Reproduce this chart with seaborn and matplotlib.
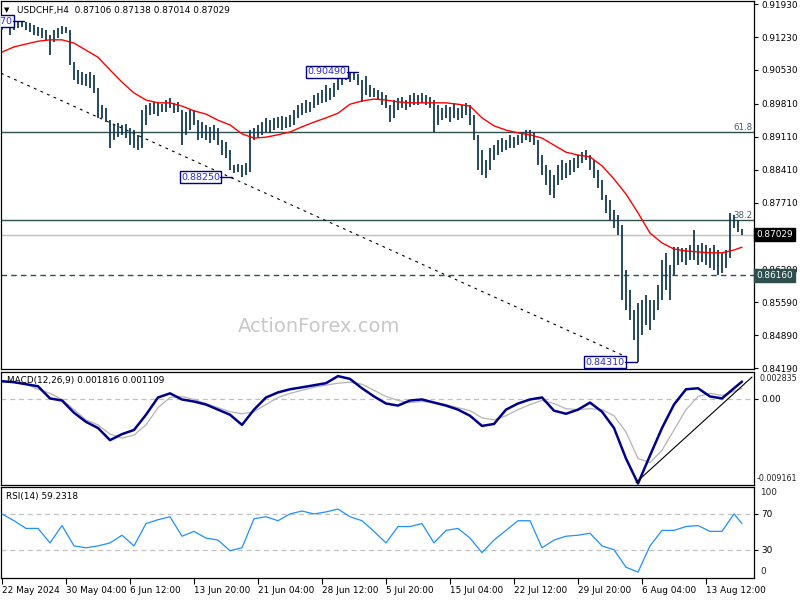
import matplotlib
matplotlib.use("Agg")
import matplotlib.pyplot as plt
import matplotlib.transforms as mtransforms
import numpy as np
import seaborn as sns

# ---- data (USDCHF H4) ----
highs = [0.9159, 0.9163, 0.9155, 0.9153, 0.9155, 0.9157, 0.9155, 0.9153, 0.9149, 0.9144,
         0.9142, 0.9138, 0.9127, 0.9138, 0.9142, 0.9146, 0.9144, 0.9138, 0.9070, 0.9053,
         0.9049, 0.9044, 0.9049, 0.9042, 0.9015, 0.8978, 0.8972, 0.8946, 0.8936, 0.8940,
         0.8936, 0.8938, 0.8930, 0.8925, 0.8915, 0.8968, 0.8978, 0.8983, 0.8985, 0.8983,
         0.8980, 0.8989, 0.8993, 0.8983, 0.8985, 0.8968, 0.8964, 0.8968, 0.8968, 0.8946,
         0.8942, 0.8936, 0.8932, 0.8936, 0.8930, 0.8904, 0.8900, 0.8883, 0.8851, 0.8853,
         0.8851, 0.8855, 0.8925, 0.8930, 0.8936, 0.8942, 0.8951, 0.8946, 0.8951, 0.8953,
         0.8955, 0.8953, 0.8957, 0.8968, 0.8978, 0.8983, 0.8989, 0.8985, 0.9000, 0.9004,
         0.9010, 0.9021, 0.9015, 0.9025, 0.9042, 0.9046, 0.9049, 0.9046, 0.9046, 0.9044,
         0.9032, 0.9040, 0.9021, 0.9015, 0.9010, 0.9006, 0.9000, 0.8978, 0.8989, 0.8993,
         0.8995, 0.8989, 0.9000, 0.9004, 0.9000, 0.9004, 0.9000, 0.8995, 0.8989, 0.8978,
         0.8972, 0.8978, 0.8974, 0.8983, 0.8972, 0.8978, 0.8983, 0.8978, 0.8957, 0.8915,
         0.8883, 0.8861, 0.8887, 0.8893, 0.8904, 0.8908, 0.8904, 0.8915, 0.8910, 0.8915,
         0.8921, 0.8925, 0.8925, 0.8921, 0.8904, 0.8872, 0.8851, 0.8840, 0.8830, 0.8851,
         0.8861, 0.8855, 0.8861, 0.8866, 0.8872, 0.8878, 0.8883, 0.8872, 0.8861, 0.8840,
         0.8819, 0.8787, 0.8776, 0.8755, 0.8744, 0.8723, 0.8628, 0.8585, 0.8542, 0.8557,
         0.8564, 0.8574, 0.8564, 0.8564, 0.8596, 0.8649, 0.8664, 0.8638, 0.8676, 0.8676,
         0.8674, 0.8674, 0.8681, 0.8713, 0.8681, 0.8685, 0.8681, 0.8674, 0.8681, 0.8670,
         0.8664, 0.8670, 0.8749, 0.8744, 0.8734, 0.87138]
lows = [0.9138, 0.9142, 0.9127, 0.9138, 0.9142, 0.9144, 0.9138, 0.9134, 0.9127, 0.9125,
        0.9121, 0.9117, 0.9085, 0.9112, 0.9121, 0.9129, 0.9132, 0.9063, 0.9032, 0.9023,
        0.9021, 0.9019, 0.9015, 0.9004, 0.8951, 0.8951, 0.8942, 0.8887, 0.8904, 0.8910,
        0.8915, 0.8908, 0.8893, 0.8887, 0.8883, 0.8887, 0.8936, 0.8957, 0.8959, 0.8955,
        0.8964, 0.8964, 0.8972, 0.8961, 0.8964, 0.8893, 0.8915, 0.8925, 0.8936, 0.8904,
        0.8908, 0.8904, 0.8898, 0.8904, 0.8893, 0.8872, 0.8866, 0.8840, 0.8834, 0.8836,
        0.8825, 0.8830, 0.8836, 0.8904, 0.8908, 0.8915, 0.8921, 0.8919, 0.8925, 0.8930,
        0.8925, 0.8930, 0.8932, 0.8936, 0.8951, 0.8957, 0.8961, 0.8964, 0.8972, 0.8978,
        0.8983, 0.8985, 0.8989, 0.8995, 0.9010, 0.9021, 0.9032, 0.9027, 0.9032, 0.9021,
        0.8985, 0.9000, 0.8995, 0.8995, 0.8989, 0.8978, 0.8972, 0.8942, 0.8951, 0.8968,
        0.8972, 0.8968, 0.8974, 0.8978, 0.8978, 0.8983, 0.8978, 0.8972, 0.8921, 0.8936,
        0.8946, 0.8951, 0.8942, 0.8951, 0.8946, 0.8951, 0.8957, 0.8936, 0.8904, 0.8840,
        0.8830, 0.8823, 0.8840, 0.8861, 0.8872, 0.8878, 0.8883, 0.8887, 0.8887, 0.8893,
        0.8898, 0.8904, 0.8900, 0.8893, 0.8851, 0.8830, 0.8808, 0.8787, 0.8781, 0.8808,
        0.8819, 0.8823, 0.8830, 0.8836, 0.8844, 0.8855, 0.8861, 0.8840, 0.8823, 0.8802,
        0.8776, 0.8749, 0.8734, 0.8717, 0.8702, 0.8564, 0.8542, 0.8521, 0.8479, 0.8431,
        0.8489, 0.8511, 0.8500, 0.8521, 0.8542, 0.8564, 0.8585, 0.8564, 0.8617, 0.8638,
        0.8645, 0.8638, 0.8649, 0.8649, 0.8638, 0.8645, 0.8638, 0.8632, 0.8628, 0.8617,
        0.8621, 0.8632, 0.8653, 0.8717, 0.8708, 0.87014]

# indicators sampled every 3 bars + last bar
ind_bars = list(range(0, 186, 3)) + [185]
ma_vals = [0.9091, 0.9102, 0.9108, 0.9114, 0.9117, 0.9117, 0.9110, 0.9095, 0.9080, 0.9053,
           0.9027, 0.9004, 0.8989, 0.8983, 0.8983, 0.8976, 0.8966, 0.8959, 0.8946, 0.8936,
           0.8917, 0.8908, 0.8910, 0.8915, 0.8921, 0.8932, 0.8942, 0.8951, 0.8961, 0.8980,
           0.8987, 0.8991, 0.8989, 0.8985, 0.8983, 0.8983, 0.8983, 0.8983, 0.8980, 0.8976,
           0.8951, 0.8934, 0.8925, 0.8919, 0.8915, 0.8908, 0.8893, 0.8878, 0.8872, 0.8868,
           0.8849, 0.8821, 0.8789, 0.8749, 0.8706, 0.8685, 0.8672, 0.8668, 0.8666, 0.8664,
           0.8664, 0.8670, 0.8676]
macd_vals = [0.00186, 0.00175, 0.00154, 0.00132, 0.00003, -0.00019, -0.00149, -0.00246, -0.00311, -0.00440,
             -0.00376, -0.00332, -0.00170, 0.00013, 0.00057, -0.00008, -0.00030, -0.00062, -0.00116, -0.00170,
             -0.00278, -0.00116, 0.00013, 0.00067, 0.00100, 0.00121, 0.00143, 0.00165, 0.00240, 0.00210,
             0.00111, 0.00024, -0.00051, -0.00073, -0.00019, -0.00008, -0.00041, -0.00073, -0.00116, -0.00181,
             -0.00289, -0.00268, -0.00116, -0.00051, -0.00008, 0.00013, -0.00127, -0.00160, -0.00116, -0.00041,
             -0.00138, -0.00311, -0.00635, -0.00900, -0.00603, -0.00311, -0.00062, 0.00100, 0.00111, 0.00024,
             0.00003, 0.00111, 0.001816]
signal_vals = [0.00175, 0.00175, 0.00154, 0.00100, 0.00057, -0.00008, -0.00116, -0.00224, -0.00278, -0.00376,
               -0.00419, -0.00386, -0.00278, -0.00095, 0.00013, 0.00024, -0.00008, -0.00051, -0.00095, -0.00138,
               -0.00160, -0.00138, -0.00062, 0.00013, 0.00057, 0.00089, 0.00121, 0.00143, 0.00165, 0.00175,
               0.00154, 0.00089, 0.00024, -0.00019, -0.00041, -0.00030, -0.00041, -0.00062, -0.00095, -0.00127,
               -0.00203, -0.00224, -0.00181, -0.00116, -0.00062, -0.00019, -0.00051, -0.00106, -0.00116, -0.00106,
               -0.00116, -0.00181, -0.00354, -0.00635, -0.00678, -0.00548, -0.00332, -0.00116, 0.00024, 0.00057,
               0.00035, 0.00078, 0.001109]
rsi_vals = [70.0, 62.4, 53.8, 53.8, 37.6, 57.0, 34.3, 32.2, 34.3, 37.6,
            46.2, 34.3, 59.2, 63.5, 66.8, 45.1, 50.5, 43.0, 40.8, 28.9,
            32.2, 64.6, 66.8, 62.4, 70.0, 73.2, 70.0, 72.2, 75.4, 66.8,
            62.4, 50.5, 37.6, 55.9, 55.9, 59.2, 37.6, 51.6, 53.8, 43.0,
            26.8, 40.8, 51.6, 62.4, 62.4, 32.2, 40.8, 45.1, 46.2, 48.4,
            34.3, 30.0, 10.5, 5.1, 34.3, 51.6, 51.6, 55.9, 57.0, 50.5,
            50.5, 70.0, 59.23]

price_ticks = [0.91930, 0.91230, 0.90530, 0.89810, 0.89110, 0.88410, 0.87710,
               0.86290, 0.85590, 0.84890, 0.84190]
date_labels = ["22 May 2024", "30 May 04:00", "6 Jun 12:00", "13 Jun 20:00", "21 Jun 04:00",
               "28 Jun 12:00", "5 Jul 20:00", "15 Jul 04:00", "22 Jul 12:00", "29 Jul 20:00",
               "6 Aug 04:00", "13 Aug 12:00"]
fib_618, fib_382 = 0.89211, 0.87340
last_close, support = 0.87029, 0.86160
swing_high, swing_low1, swing_low2, first_high = 0.90490, 0.88250, 0.84310, 0.91570

BAR = "#143a52"
SLATE = "#2f4f4f"

sns.set_theme(style="white")
plt.rcParams["font.family"] = ["DejaVu Sans"]

fig = plt.figure(figsize=(8, 6), dpi=100)
fig.patch.set_facecolor("white")
L, W = 1 / 800, 753 / 800
ax = fig.add_axes([L, 1 - 369 / 600, W, 368 / 600])
axm = fig.add_axes([L, 1 - 485 / 600, W, 113 / 600])
axr = fig.add_axes([L, 1 - 578 / 600, W, 91 / 600])

idx = np.arange(len(highs))
for a in (ax, axm, axr):
    a.set_facecolor("white")
    a.set_xlim(-0.25, 188)
    for s in a.spines.values():
        s.set_color("black")
        s.set_linewidth(0.9)
    a.yaxis.tick_right()
    a.tick_params(axis="y", direction="out", length=3, width=0.8, pad=2,
                  labelsize=6.4, colors="black", left=False, labelleft=False)
    a.grid(False)

# ---- main price panel ----
ax.set_ylim(0.84169, 0.91996)
ax.vlines(idx, lows, highs, color=BAR, lw=1.3, zorder=3)
sns.lineplot(x=ind_bars, y=ma_vals, ax=ax, color="#ff0000", lw=1.0, zorder=4, legend=False)
ax.axhline(fib_618, color=SLATE, lw=1.0, zorder=2)
ax.axhline(fib_382, color=SLATE, lw=1.0, zorder=2)
ax.axhline(last_close, color="#c0c0c0", lw=1.0, zorder=1)
ax.axhline(support, color=SLATE, lw=1.0, ls=(0, (4, 3)), zorder=2)
ax.text(187.6, fib_618, "61.8", ha="right", va="bottom", fontsize=6.2, color="#4a5a66")
ax.text(187.6, fib_382, "38.2", ha="right", va="bottom", fontsize=6.2, color="#4a5a66")
ax.plot([-0.25, 156.25], [0.9046, 0.8442], color="black", lw=0.8, ls=(0, (2.5, 4)), zorder=2)

box = dict(boxstyle="square,pad=0.15", fc="white", ec="#000080", lw=1.0)
for xb, xe, lev in [(86.2, 89, swing_high), (54.5, 57.5, swing_low1),
                    (155.7, 158.8, swing_low2), (2.7, 5.5, first_high)]:
    ax.text(xb, lev, f"{lev:.5f}", ha="right", va="center", fontsize=6.8,
            color="#2a2ad0", bbox=box, zorder=6, clip_on=True)
    ax.plot([xb, xe], [lev, lev], color="#000080", lw=1.0, zorder=6)

ax.set_yticks(price_ticks)
ax.set_yticklabels([f"{v:.5f}" for v in price_ticks])
ax.tick_params(axis="x", bottom=False, labelbottom=False)
ax.set_xlabel("")
ax.set_ylabel("")
tr = mtransforms.blended_transform_factory(ax.transAxes, ax.transData)
ax.text(1.003, last_close, f"{last_close:.5f}", transform=tr, ha="left", va="center",
        fontsize=6.4, color="white", zorder=10,
        bbox=dict(boxstyle="square,pad=0.25", fc="black", ec="black"), clip_on=False)
ax.text(1.003, support, f"{support:.5f}", transform=tr, ha="left", va="center",
        fontsize=6.4, color="white", zorder=10,
        bbox=dict(boxstyle="square,pad=0.25", fc=SLATE, ec=SLATE), clip_on=False)

fig.text(4 / 800, 1 - 10 / 600, "\u25BC", fontsize=5, va="center", color="black")
fig.text(17 / 800, 1 - 10 / 600, "USDCHF,H4  0.87106 0.87138 0.87014 0.87029",
         fontsize=6.4, va="center", color="black")
fig.text(319 / 800, 1 - 326 / 600, "ActionForex.com", fontsize=14, color="#c8c8c8",
         ha="center", va="center")

# ---- MACD panel ----
axm.set_ylim(-0.009161, 0.002835)
axm.axhline(0, color="#c0c0c0", lw=0.9, ls=(0, (4, 3)), zorder=1)
sns.lineplot(x=ind_bars, y=signal_vals, ax=axm, color="#b4b4b4", lw=0.9, legend=False, zorder=2)
sns.lineplot(x=ind_bars, y=macd_vals, ax=axm, color="#00008b", lw=1.8, legend=False, zorder=3)
axm.plot([158.5, 187.5], [-0.0089, 0.0023], color="black", lw=0.8, zorder=4)
axm.set_yticks([0.0])
axm.set_yticklabels(["0.00"])
axm.tick_params(axis="x", bottom=False, labelbottom=False)
axm.set_xlabel("")
axm.set_ylabel("")
axm.text(1.007, 0.985, "0.002835", transform=axm.transAxes, fontsize=5.8, ha="left", va="top")
axm.text(1.004, 0.015, "-0.009161", transform=axm.transAxes, fontsize=5.8, ha="left", va="bottom")
axm.text(0.008, 0.925, "MACD(12,26,9) 0.001816 0.001109", transform=axm.transAxes,
         fontsize=6.4, ha="left", va="center", color="black")

# ---- RSI panel ----
axr.set_ylim(-1.5, 100)
axr.axhline(70, color="#c0c0c0", lw=0.9, ls=(0, (4, 3)), zorder=1)
axr.axhline(30, color="#c0c0c0", lw=0.9, ls=(0, (4, 3)), zorder=1)
sns.lineplot(x=ind_bars, y=rsi_vals, ax=axr, color="#1e90ff", lw=0.9, legend=False, zorder=3)
axr.set_yticks([70, 30])
axr.set_yticklabels(["70", "30"])
axr.text(1.008, 0.99, "100", transform=axr.transAxes, fontsize=6.4, ha="left", va="top")
axr.text(1.008, 0.02, "0", transform=axr.transAxes, fontsize=6.4, ha="left", va="bottom")
axr.text(0.006, 0.9, "RSI(14) 59.2318", transform=axr.transAxes,
         fontsize=6.4, ha="left", va="center", color="black")
axr.set_xlabel("")
axr.set_ylabel("")
tick_bars = [16 * k for k in range(len(date_labels))]
axr.set_xticks(tick_bars)
axr.set_xticklabels(date_labels)
axr.tick_params(axis="x", bottom=True, direction="out", length=4, width=0.8, pad=2,
                labelsize=6.4, colors="black")
for lbl in axr.get_xticklabels():
    lbl.set_ha("left")

fig.savefig("out.png", dpi=100, facecolor="white")
